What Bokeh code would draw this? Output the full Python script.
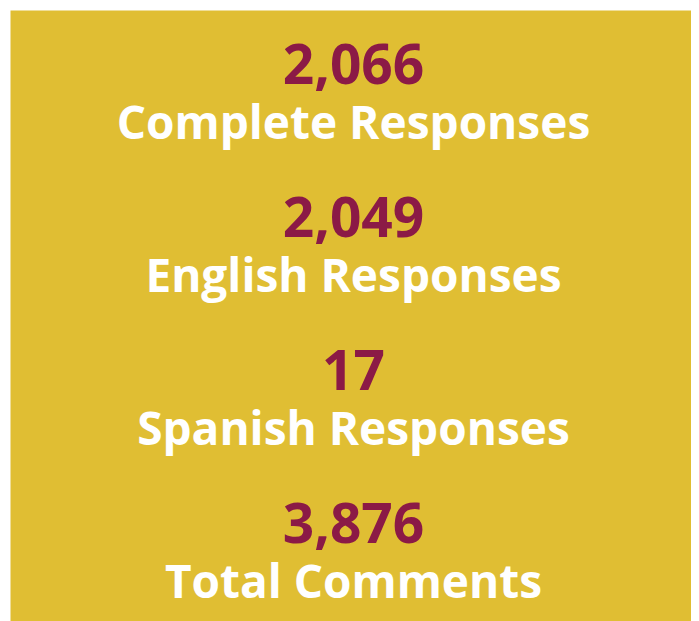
from bokeh.plotting import figure
from bokeh.models import Range1d, ColumnDataSource
from bokeh.core.properties import value
from bokeh.embed import file_html
from bokeh.resources import INLINE

counts = [2066, 2049, 17, 3876]
labels = ["Complete Responses", "English Responses", "Spanish Responses", "Total Comments"]

W, H = 681, 611
p = figure(width=W + 10, height=H + 10, output_backend="svg", toolbar_location=None,
           x_range=Range1d(0, W), y_range=Range1d(H, 0),
           min_border_left=10, min_border_top=10, min_border_right=0, min_border_bottom=0)
p.axis.visible = False
p.grid.visible = False
p.outline_line_color = None
p.background_fill_color = "#E0BE33"
p.border_fill_color = "white"

step = 153.3
cx = 343
num_src = ColumnDataSource(dict(
    x=[cx] * len(counts),
    y=[53 + step * i for i in range(len(counts))],
    t=[f"{c:,}" for c in counts]))
lab_src = ColumnDataSource(dict(
    x=[cx] * len(labels),
    y=[110 + step * i for i in range(len(labels))],
    t=labels))

p.text(x="x", y="y", text="t", source=num_src, text_align="center",
       text_baseline="alphabetic", text_font=value("Open Sans"), text_font_style="bold",
       text_font_size="55px", text_color="#8B1A46")
p.text(x="x", y="y", text="t", source=lab_src, text_align="center",
       text_baseline="alphabetic", text_font=value("Open Sans"), text_font_style="bold",
       text_font_size="46px", text_color="white")

open("out.html", "w").write(file_html(p, INLINE))
